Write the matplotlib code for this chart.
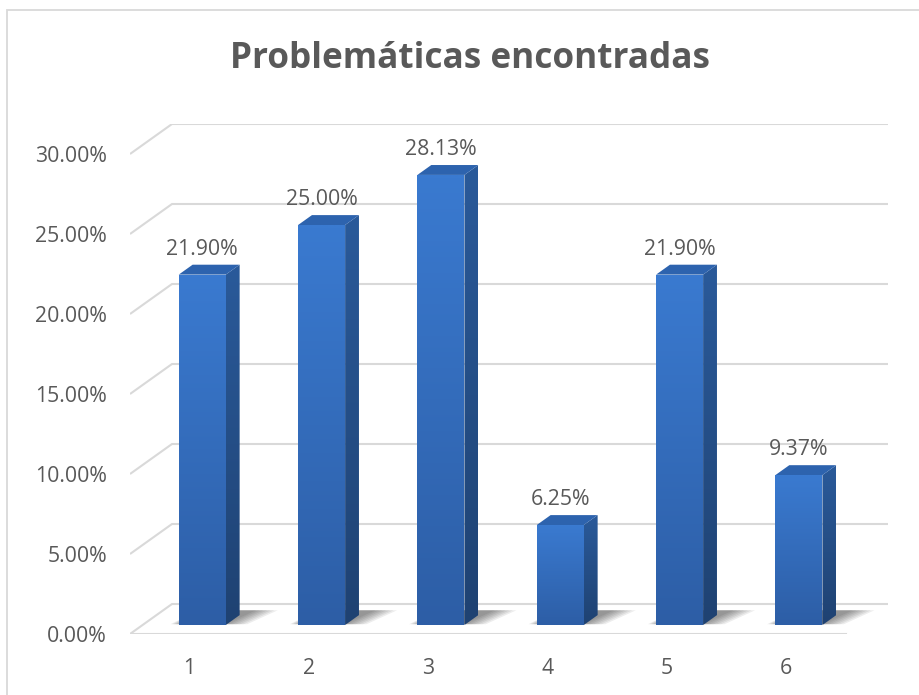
import numpy as np
import matplotlib
matplotlib.use("Agg")
from matplotlib import pyplot as plt
from matplotlib.patches import Polygon, Rectangle

# data
categories = ["1", "2", "3", "4", "5", "6"]
values = [21.90, 25.00, 28.13, 6.25, 21.90, 9.37]
value_labels = ["21.90%", "25.00%", "28.13%", "6.25%", "21.90%", "9.37%"]
y_ticks = [0, 5, 10, 15, 20, 25, 30]
y_tick_labels = ["0.00%", "5.00%", "10.00%", "15.00%", "20.00%", "25.00%", "30.00%"]
title = "Problemáticas encontradas"

# 3d look: depth vector (in data units) from front of floor to back wall
DX = 0.352
DY = 1.875
D0, D1 = 0.30, 0.63   # bar front / back depth fraction
BAR_W = 0.394

TEXT_COLOR = "#595959"
GRID_COLOR = "#d9d9d9"

plt.rcParams["font.family"] = ["Open Sans", "DejaVu Sans"]

fig = plt.figure(figsize=(9.2, 6.95), dpi=100)
W, H = 920, 695

# chart border (runs past the right/bottom edge like the original crop)
fig.patches.append(Rectangle((7 / W, -0.05), 1.1, (H - 10) / H + 0.05,
                             transform=fig.transFigure, fill=False,
                             edgecolor=GRID_COLOR, linewidth=1.3))

ax = fig.add_axes([130 / W, (H - 634) / H, (888 - 130) / W, (634 - 124) / H])
n = len(values)
for s in ax.spines.values():
    s.set_visible(False)
ax.patch.set_alpha(0)

# gridlines: side wall diagonal + back wall
for t in y_ticks:
    ax.plot([0.5, 0.5 + DX, n + 0.5 + DX], [t, t + DY, t + DY],
            color=GRID_COLOR, linewidth=1.5, solid_capstyle="butt", zorder=1)
# floor front edge
ax.plot([0.5, n + 0.5], [0, 0], color=GRID_COLOR, linewidth=1.5, zorder=1)


def gradient_fill(poly_pts, top_color, bottom_color, zorder):
    poly = Polygon(poly_pts, closed=True, facecolor="none", edgecolor="none",
                   transform=ax.transData, zorder=zorder)
    ax.add_patch(poly)
    pts = np.array(poly_pts)
    c_top = np.array(matplotlib.colors.to_rgb(top_color))
    c_bot = np.array(matplotlib.colors.to_rgb(bottom_color))
    k = np.linspace(0, 1, 64)[:, None]
    grad = (c_top * (1 - k) + c_bot * k)[:, None, :]
    im = ax.imshow(grad, extent=[pts[:, 0].min(), pts[:, 0].max(),
                                 pts[:, 1].min(), pts[:, 1].max()],
                   origin="upper", aspect="auto", zorder=zorder,
                   interpolation="bilinear")
    im.set_clip_path(poly)


for i, v in enumerate(values):
    c = i + 1
    xl0 = c - BAR_W / 2 + D0 * DX
    xr0 = c + BAR_W / 2 + D0 * DX
    xl1 = c - BAR_W / 2 + D1 * DX
    xr1 = c + BAR_W / 2 + D1 * DX
    b0 = D0 * DY
    b1 = D1 * DY

    # soft shadow on floor
    for k in range(7):
        grow = 0.03 * k
        sh = Polygon([(xl0 + 0.02 - grow * 0.5, b0 + 0.05),
                      (xr0 + grow, b0 + 0.05),
                      (xr1 + 0.14 + grow, b1 + 0.3),
                      (xl1 + 0.05, b1 + 0.3)],
                     closed=True, facecolor="black", alpha=0.07,
                     edgecolor="none", zorder=2)
        ax.add_patch(sh)

    # side face
    gradient_fill([(xr0, b0), (xr1, b1), (xr1, v + b1), (xr0, v + b0)],
                  "#2a5a9a", "#1f4272", 3)
    # top face
    ax.add_patch(Polygon([(xl0, v + b0), (xr0, v + b0), (xr1, v + b1), (xl1, v + b1)],
                         closed=True, facecolor="#2d63ae", edgecolor="none", zorder=3))
    # front face
    gradient_fill([(xl0, b0), (xr0, b0), (xr0, v + b0), (xl0, v + b0)],
                  "#3a7ad0", "#2d5ea6", 4)

    ax.annotate(value_labels[i], (c + D0 * DX, v + b0), xytext=(0, 20),
                textcoords="offset pixels", ha="center", va="baseline",
                fontsize=15.3, color=TEXT_COLOR, zorder=5)

ax.set_xlim(0.5, n + 0.5 + DX)
ax.set_ylim(0, y_ticks[-1] + DY)

ax.set_xticks(range(1, n + 1))
ax.set_xticklabels(categories)
ax.set_yticks(y_ticks)
ax.set_yticklabels(y_tick_labels)
ax.tick_params(axis="both", length=0, labelsize=15.3, labelcolor=TEXT_COLOR)
ax.tick_params(axis="y", pad=16.5)
ax.tick_params(axis="x", pad=17)

fig.text(470 / W, 1 - 59 / H, title, ha="center", va="center",
         fontsize=25.3, fontweight="bold", color=TEXT_COLOR)

fig.savefig("out.png", dpi=100)
